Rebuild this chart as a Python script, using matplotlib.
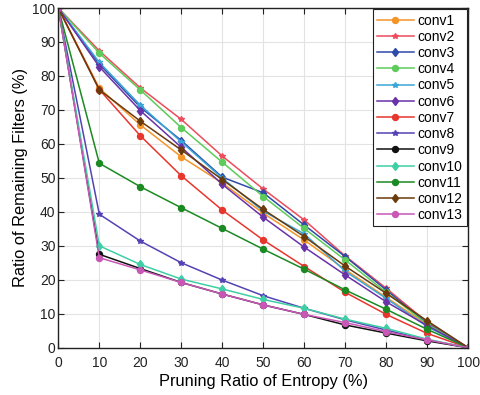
import matplotlib
matplotlib.use("Agg")
import matplotlib.pyplot as plt

plt.rcParams["font.family"] = ["Liberation Sans", "DejaVu Sans"]

pruning_ratio = [0, 10, 20, 30, 40, 50, 60, 70, 80, 90, 100]

conv1 = [100, 76.4, 65.6, 56.2, 48.5, 39.6, 31.7, 23.0, 14.8, 6.8, 0]
conv2 = [100, 87.4, 76.5, 67.2, 56.4, 46.7, 37.6, 27.0, 17.5, 7.5, 0]
conv3 = [100, 83.5, 70.8, 61.0, 50.2, 45.6, 36.1, 26.8, 17.0, 7.1, 0]
conv4 = [100, 86.7, 75.9, 64.8, 54.6, 44.5, 35.1, 25.8, 16.3, 6.9, 0]
conv5 = [100, 84.0, 71.4, 60.6, 49.9, 40.2, 33.5, 22.5, 14.5, 6.2, 0]
conv6 = [100, 82.7, 69.8, 59.0, 48.1, 38.4, 29.6, 21.4, 13.5, 6.5, 0]
conv7 = [100, 76.0, 62.4, 50.6, 40.5, 31.7, 23.9, 16.3, 9.8, 4.2, 0]
conv8 = [100, 39.3, 31.4, 25.0, 19.9, 15.3, 11.6, 8.2, 5.2, 2.3, 0]
conv9 = [100, 27.5, 23.3, 19.2, 15.8, 12.6, 9.8, 6.7, 4.3, 2.0, 0]
conv10 = [100, 30.0, 24.5, 20.2, 17.3, 14.2, 11.6, 8.4, 5.7, 2.5, 0]
conv11 = [100, 54.3, 47.4, 41.2, 35.1, 29.0, 23.1, 17.0, 11.3, 5.4, 0]
conv12 = [100, 75.9, 66.7, 58.2, 49.5, 40.7, 32.7, 24.0, 16.0, 7.9, 0]
conv13 = [100, 26.5, 22.9, 19.2, 15.8, 12.6, 9.8, 7.4, 4.7, 2.3, 0]

series = [conv1, conv2, conv3, conv4, conv5, conv6, conv7,
          conv8, conv9, conv10, conv11, conv12, conv13]
labels = ["conv%d" % (i + 1) for i in range(13)]
colors = ["#f4952a", "#ec4c5c", "#2f4aa8", "#5ecb5a", "#3aa6d8", "#6a32a8",
          "#e8362e", "#5443b4", "#111111", "#3fcfa5", "#1b8a22", "#6a3a0c",
          "#c957b6"]
markers = ["o", "*", "d", "o", "*", "d", "o", "*", "o", "d", "o", "d", "o"]

fig = plt.figure(figsize=(4.8, 3.95), dpi=100)
ax = fig.add_axes([0.1215, 0.1197, 0.854, 0.86])

for y, label, c, m in zip(series, labels, colors, markers):
    ax.plot(pruning_ratio, y, color=c, marker=m, markersize=4.3,
            linewidth=1.1, label=label)

ax.set_xlim(0, 100)
ax.set_ylim(0, 100)
ax.set_xticks(range(0, 101, 10))
ax.set_yticks(range(0, 101, 10))
ax.grid(True, color="#e3e3e3", linewidth=0.8)
ax.set_axisbelow(True)
ax.tick_params(direction="in", top=True, right=True, labelsize=10,
               length=4, colors="#222222")
ax.tick_params(axis="x", pad=6)
ax.tick_params(axis="y", pad=2)
for s in ax.spines.values():
    s.set_linewidth(1.0)
    s.set_color("#222222")

ax.set_xlabel("Pruning Ratio of Entropy (%)", fontsize=11.8, labelpad=3)
ax.set_ylabel("Ratio of Remaining Filters (%)", fontsize=11.8, labelpad=3)

leg = ax.legend(loc="upper right", fontsize=10, handlelength=2.6,
                labelspacing=0.16, borderpad=0.3, handletextpad=0.3,
                fancybox=False, framealpha=1, edgecolor="#222222",
                borderaxespad=0.1)
leg.get_frame().set_linewidth(0.8)

fig.savefig("out.png", dpi=100)
